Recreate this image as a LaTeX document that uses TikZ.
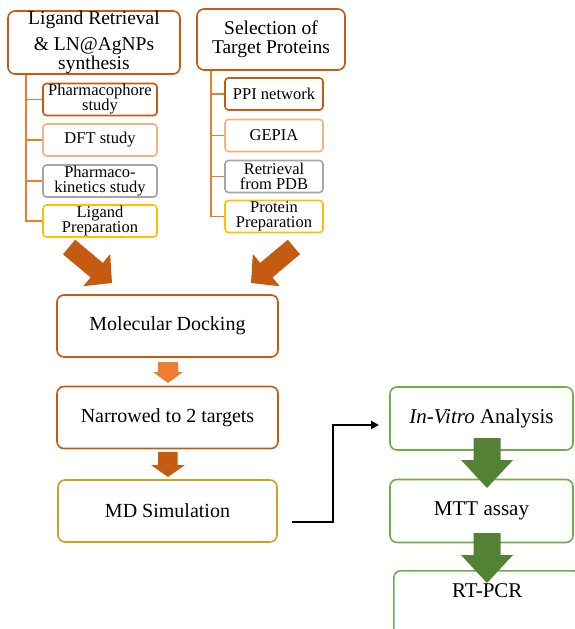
\documentclass[tikz,border=0pt]{standalone}
\usepackage{fontspec}
\setmainfont{Liberation Serif}
\usetikzlibrary{arrows.meta,calc}
\definecolor{dorange}{HTML}{C55A11}
\definecolor{lorange}{HTML}{ED7D31}
\definecolor{peach}{HTML}{F4B183}
\definecolor{greyb}{HTML}{A5A5A5}
\definecolor{goldb}{HTML}{FFC000}
\definecolor{mdgold}{HTML}{C9A227}
\definecolor{lgreen}{HTML}{70AD47}
\definecolor{dgreen}{HTML}{548235}
\tikzset{
  bigbox/.style={draw, line width=1.6pt, rounded corners=7pt, align=center, inner xsep=2pt, inner ysep=0pt, fill=white},
  subbox/.style={draw, line width=1.6pt, rounded corners=3.5pt, align=center, inner sep=1pt, fill=white,
    font=\fontsize{16.5}{15}\selectfont},
  lsub/.style={subbox, minimum width=114pt, minimum height=32pt},
  rsub/.style={subbox, minimum width=98pt, minimum height=32pt},
  midbox/.style={bigbox, draw=dorange, minimum width=221pt, minimum height=62pt, font=\fontsize{20}{22}\selectfont},
  gbox/.style={bigbox, draw=lgreen, minimum width=183pt, minimum height=63pt, font=\fontsize{21}{24}\selectfont},
  tree/.style={draw=lorange, line width=1.8pt},
  blockarrow/.style={fill=dorange},
}
\begin{document}
\begin{tikzpicture}[x=1pt,y=-1pt]
\useasboundingbox (0,0) rectangle (574,629);

% left column
\node[bigbox, draw=dorange, minimum width=172pt, minimum height=63pt, font=\fontsize{19.5}{17}\selectfont]
  (lig) at (94,42.5) {Ligand Retrieval\\[8pt]\& LN@AgNPs\\synthesis};
\node[lsub, draw=dorange] (ph) at (100,99.5) {Pharmacophore\\study};
\node[lsub, draw=peach] (dft) at (100,140) {DFT study};
\node[lsub, draw=greyb] (pk) at (100,181) {Pharmaco-\\kinetics study};
\node[lsub, draw=goldb] (lp) at (100,221) {Ligand\\Preparation};
\coordinate (lv) at ($(lig.south west)+(19,0)$);
\draw[tree] (lv) |- (lp.west);
\draw[tree] (ph.west) -- (ph.west -| lv);
\draw[tree] (dft.west) -- (dft.west -| lv);
\draw[tree] (pk.west) -- (pk.west -| lv);

% right column
\node[bigbox, draw=dorange, minimum width=148pt, minimum height=61pt, font=\fontsize{19.5}{19}\selectfont]
  (sel) at (271,39.5) {Selection of\\Target Proteins};
\node[rsub, draw=dorange] (ppi) at (274,94) {PPI network};
\node[rsub, draw=peach] (gep) at (274,135.5) {GEPIA};
\node[rsub, draw=greyb] (pdb) at (274,176.5) {Retrieval\\from PDB};
\node[rsub, draw=goldb] (pp) at (274,216.5) {Protein\\Preparation};
\coordinate (rv) at ($(sel.south west)+(15,0)$);
\draw[tree] (rv) |- (pp.west);
\draw[tree] (ppi.west) -- (ppi.west -| rv);
\draw[tree] (gep.west) -- (gep.west -| rv);
\draw[tree] (pdb.west) -- (pdb.west -| rv);

% big diagonal arrows
\fill[blockarrow, shift={(112,283)}, rotate=-40]
  (0,0) -- (-20,21) -- (-20,9.5) -- (-56,9.5) -- (-56,-9.5) -- (-20,-9.5) -- (-20,-21) -- cycle;
\fill[blockarrow, shift={(251,283)}, rotate=-140]
  (0,0) -- (-20,21) -- (-20,9.5) -- (-56,9.5) -- (-56,-9.5) -- (-20,-9.5) -- (-20,-21) -- cycle;

% middle column
\node[midbox] (dock) at (167.5,326) {Molecular Docking};
\node[midbox] (nar) at (167.5,417.5) {Narrowed to 2 targets};
\node[midbox, draw=mdgold, minimum width=219pt] (md) at (167.5,511) {MD Simulation};

\fill[lorange] (158,362) -- (178,362) -- (178,372) -- (183,372) -- (168,383) -- (153,372) -- (158,372) -- cycle;
\fill[dorange] (158,452) -- (177.5,452) -- (177.5,465) -- (185,465) -- (168,477) -- (151,465) -- (158,465) -- cycle;

% right green column
\node[gbox] (iv) at (481.5,418.5) {\textit{In-Vitro} Analysis};
\node[gbox] (mtt) at (481.5,511) {MTT assay};
\node[gbox, anchor=north west, minimum width=187pt, minimum height=0pt, text height=22pt, text depth=40pt, inner ysep=5pt]
  (rt) at (393,570) {RT-PCR};

\fill[dgreen] (473.5,438) -- (500.5,438) -- (500.5,460) -- (513,460) -- (487,488) -- (461,460) -- (473.5,460) -- cycle;
\fill[dgreen] (473.5,533) -- (500.5,533) -- (500.5,555) -- (513,555) -- (487,583) -- (461,555) -- (473.5,555) -- cycle;

% black connector
\coordinate (cs) at (292,522);
\coordinate (ce) at (379,425);
\draw[line width=2pt, -{Triangle[length=8pt,width=8pt]}] (cs) -| (333,425) -- (ce);
\end{tikzpicture}
\end{document}
